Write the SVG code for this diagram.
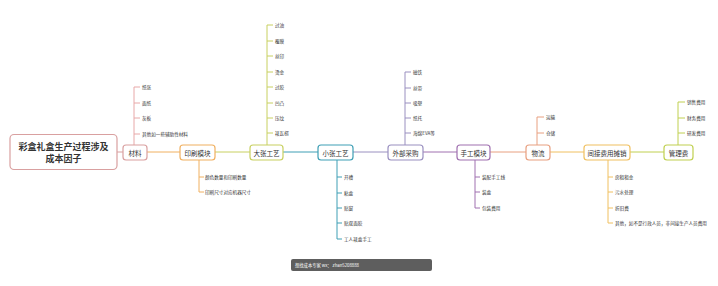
<svg xmlns="http://www.w3.org/2000/svg" width="718" height="286" viewBox="0 0 718 286">
<style>
text{font-family:"Noto Sans CJK SC","Noto Sans",sans-serif;fill:#333}
.n{font-size:6.5px;text-anchor:middle;dominant-baseline:central}
.i{font-size:4.6px;dominant-baseline:central}
.b{fill:#fff;stroke-width:1.2}
.c path,.c line{fill:none;stroke-width:1}
</style>
<rect width="718" height="286" fill="#fff"/>
<g class="c" id="connectors">
<line x1="117" y1="152" x2="123" y2="152" stroke="#d9a0a0"/>
<line x1="147" y1="152" x2="180" y2="152" stroke="#f0b060"/>
<line x1="215" y1="152" x2="250" y2="152" stroke="#c8d060"/>
<line x1="283" y1="152" x2="318" y2="152" stroke="#3f9fb5"/>
<line x1="353" y1="152" x2="388" y2="152" stroke="#9a90c0"/>
<line x1="423" y1="152" x2="457" y2="152" stroke="#a070b0"/>
<line x1="490" y1="152" x2="526" y2="152" stroke="#e8a080"/>
<line x1="550" y1="152" x2="584" y2="152" stroke="#f0c060"/>
<line x1="630" y1="152" x2="664" y2="152" stroke="#c0d050"/>
<path stroke="#e8a8a8" d="M134 145V87M134 87h6M134 103h6M134 118h6M134 134h6"/>
<path stroke="#f0b060" d="M199 160V192M199 177h5M199 192h5"/>
<path stroke="#c8d060" d="M267 146V25M267 25h6M267 41h6M267 56h6M267 72h6M267 87h6M267 103h6M267 118h6M267 133h6"/>
<path stroke="#3f9fb5" d="M337 160V239M337 177h5M337 193h5M337 208h5M337 223h5M337 239h5"/>
<path stroke="#9a90c0" d="M405 145V72M405 72h6M405 88h6M405 103h6M405 118h6M405 133h6"/>
<path stroke="#a070b0" d="M475 160V208M475 177h5M475 192h5M475 208h5"/>
<path stroke="#e8a080" d="M537 145V117M537 117h7M537 133h7"/>
<path stroke="#f0c060" d="M608 160V223M608 177h5M608 192h5M608 208h5M608 223h5"/>
<path stroke="#c0d050" d="M678 145V102M678 102h7M678 118h7M678 133h7"/>
</g>
<g id="root">
<rect class="b" x="10" y="134.5" width="107" height="35" rx="4" stroke="#d9a0a0"/>
<text x="63.5" y="146" class="n" style="font-size:9px;font-weight:bold">彩盒礼盒生产过程涉及</text>
<text x="63.5" y="158" class="n" style="font-size:9px;font-weight:bold">成本因子</text>
</g>
<g id="cailiao">
<rect class="b" x="123" y="145" width="24" height="15" rx="3" stroke="#d9a0a0"/>
<text x="135" y="152.5" class="n">材料</text>
<text x="142" y="87" class="i">纸张</text>
<text x="142" y="103" class="i">面纸</text>
<text x="142" y="118" class="i">灰板</text>
<text x="142" y="134" class="i">其他如一些辅助性材料</text>
</g>
<g id="yinshua">
<rect class="b" x="180" y="145" width="35" height="15" rx="3" stroke="#f0b060"/>
<text x="197.5" y="152.5" class="n">印刷模块</text>
<text x="205" y="177" class="i">颜色数量和印刷数量</text>
<text x="205" y="192" class="i">印刷尺寸对应机器尺寸</text>
</g>
<g id="dazhang">
<rect class="b" x="250" y="145" width="33" height="15" rx="3" stroke="#c8d060"/>
<text x="266.5" y="152.5" class="n">大张工艺</text>
<text x="275" y="25" class="i">过油</text>
<text x="275" y="41" class="i">覆膜</text>
<text x="275" y="56" class="i">丝印</text>
<text x="275" y="72" class="i">烫金</text>
<text x="275" y="87" class="i">过胶</text>
<text x="275" y="103" class="i">凹凸</text>
<text x="275" y="118" class="i">压纹</text>
<text x="275" y="133" class="i">裱瓦楞</text>
</g>
<g id="xiaozhang">
<rect class="b" x="318" y="145" width="35" height="15" rx="3" stroke="#3f9fb5"/>
<text x="335.5" y="152.5" class="n">小张工艺</text>
<text x="344" y="177" class="i">开槽</text>
<text x="344" y="193" class="i">粘盒</text>
<text x="344" y="208" class="i">贴窗</text>
<text x="344" y="223" class="i">贴双面胶</text>
<text x="344" y="239" class="i">工人裱盒手工</text>
</g>
<g id="waibu">
<rect class="b" x="388" y="145" width="35" height="15" rx="3" stroke="#9a90c0"/>
<text x="405.5" y="152.5" class="n">外部采购</text>
<text x="413" y="72" class="i">磁铁</text>
<text x="413" y="88" class="i">丝带</text>
<text x="413" y="103" class="i">吸塑</text>
<text x="413" y="118" class="i">纸托</text>
<text x="413" y="133" class="i">海绵EVA等</text>
</g>
<g id="shougong">
<rect class="b" x="457" y="145" width="33" height="15" rx="3" stroke="#a070b0"/>
<text x="473.5" y="152.5" class="n">手工模块</text>
<text x="482" y="177" class="i">装配手工线</text>
<text x="482" y="192" class="i">装盒</text>
<text x="482" y="208" class="i">包装费用</text>
</g>
<g id="wuliu">
<rect class="b" x="526" y="145" width="24" height="15" rx="3" stroke="#e8a080"/>
<text x="538" y="152.5" class="n">物流</text>
<text x="546" y="117" class="i">运输</text>
<text x="546" y="133" class="i">仓储</text>
</g>
<g id="jianjie">
<rect class="b" x="584" y="145" width="46" height="15" rx="3" stroke="#f0c060"/>
<text x="607" y="152.5" class="n">间接费用摊销</text>
<text x="615" y="177" class="i">房租租金</text>
<text x="615" y="192" class="i">污水处理</text>
<text x="615" y="208" class="i">折旧费</text>
<text x="615" y="223" class="i">其他，如不是行政人员，非间接生产人员费用</text>
</g>
<g id="guanli">
<rect class="b" x="664" y="145" width="29" height="15" rx="3" stroke="#c0d050"/>
<text x="678.5" y="152.5" class="n">管理费</text>
<text x="687" y="102" class="i">销售费用</text>
<text x="687" y="118" class="i">财务费用</text>
<text x="687" y="133" class="i">研发费用</text>
</g>
<g id="footer">
<rect x="291" y="259" width="141" height="12" rx="2" fill="#5e5e5e"/>
<text x="295" y="265" class="i" style="fill:#fff;font-size:4.3px">想找成本专家 wx：  zhan5208888</text>
</g>
</svg>
